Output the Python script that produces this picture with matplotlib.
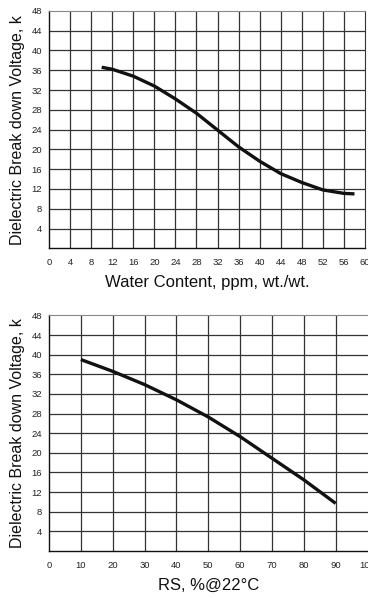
import numpy as np
import matplotlib.pyplot as plt

# top chart: breakdown voltage vs water content
water_ppm = [10, 12, 16, 20, 24, 28, 32, 36, 40, 44, 48, 52, 56, 58]
volt_water = [36.6, 36.2, 34.8, 32.8, 30.2, 27.3, 23.9, 20.5, 17.6, 15.1, 13.3, 11.8, 11.1, 11.0]

# bottom chart: breakdown voltage vs relative saturation
rs_pct = [10, 20, 30, 40, 50, 60, 70, 80, 90]
volt_rs = [39.0, 36.6, 33.9, 30.8, 27.3, 23.3, 18.9, 14.5, 9.7]

y_ticks = list(range(4, 49, 4))
x_ticks_top = list(range(0, 61, 4))
x_ticks_bot = list(range(0, 101, 10))

plt.rcParams['font.family'] = ['Liberation Sans Narrow', 'Liberation Sans', 'DejaVu Sans']

fig = plt.figure(figsize=(3.68, 5.98), dpi=100)
ax1 = fig.add_axes([0.1332, 0.5848, 0.8587, 0.397])
ax2 = fig.add_axes([0.1332, 0.0786, 0.8655, 0.394])

grid_col = '#333333'


def style(ax, xticks, xmax, xlabel, right_spine):
    ax.set_xlim(0, xmax)
    ax.set_ylim(0, 48)
    ax.set_xticks(xticks)
    ax.set_yticks(y_ticks)
    for v in xticks[1:-1]:
        ax.axvline(v, color=grid_col, lw=0.9, zorder=1)
    for v in y_ticks[:-1]:
        ax.axhline(v, color=grid_col, lw=0.9, zorder=1)
    ax.tick_params(length=0, labelsize=6.8, colors='#222222')
    ax.tick_params(axis='x', pad=7)
    ax.tick_params(axis='y', pad=5)
    ax.spines['left'].set_color('#111111')
    ax.spines['bottom'].set_color('#111111')
    ax.spines['top'].set_color('#888888')
    ax.spines['left'].set_linewidth(1.0)
    ax.spines['bottom'].set_linewidth(1.0)
    if right_spine:
        ax.spines['right'].set_color('#333333')
    else:
        ax.spines['right'].set_visible(False)
    ax.set_ylabel('Dielectric Break down Voltage, k', fontsize=11.5,
                  family=['Liberation Sans', 'DejaVu Sans'], labelpad=5, color='#111111')
    ax.set_xlabel(xlabel, fontsize=12, family=['Liberation Sans', 'DejaVu Sans'],
                  labelpad=6, color='#111111')


style(ax1, x_ticks_top, 60, 'Water Content, ppm, wt./wt.', True)
ax1.plot(water_ppm, volt_water, color='#111111', lw=2.4, solid_capstyle='butt', zorder=3)

style(ax2, x_ticks_bot, 100, 'RS, %@22°C', False)
ax2.plot(rs_pct, volt_rs, color='#111111', lw=2.4, solid_capstyle='butt', zorder=3)

fig.savefig('out.png', dpi=100)
